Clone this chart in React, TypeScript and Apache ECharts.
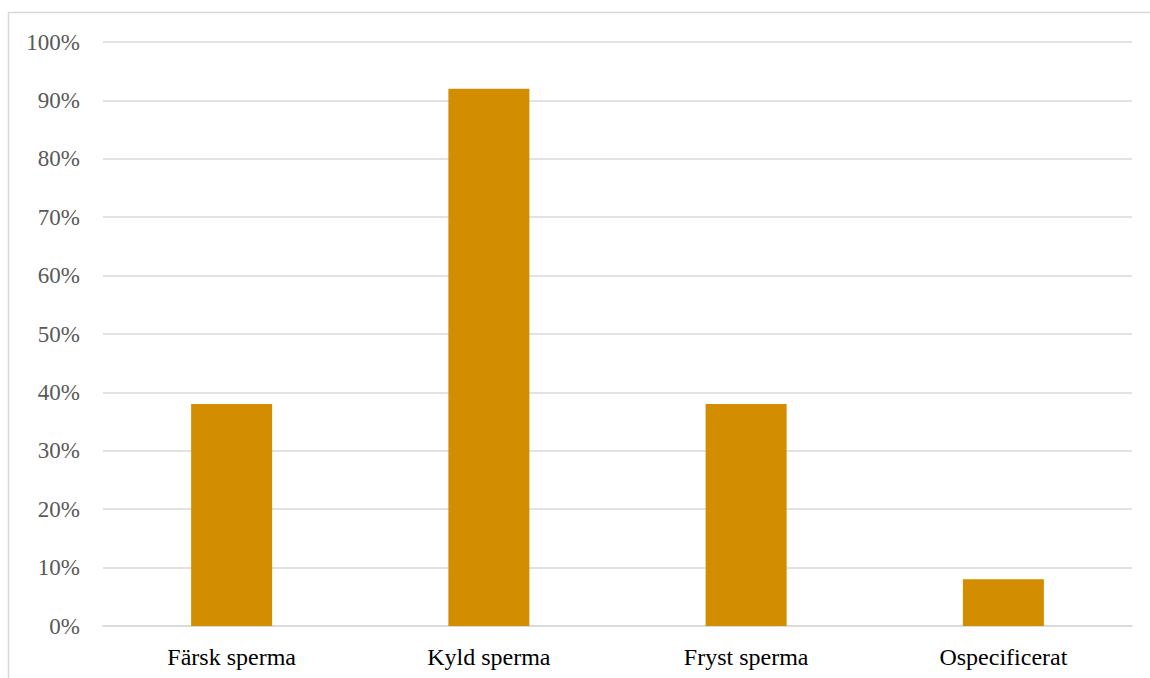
import React, { useEffect, useRef } from "react";
import * as echarts from "echarts";

const categories = ["Färsk sperma", "Kyld sperma", "Fryst sperma", "Ospecificerat"];
const values = [38, 92, 38, 8];
const yTicks = [0, 10, 20, 30, 40, 50, 60, 70, 80, 90, 100];

export default function App() {
  const ref = useRef<HTMLDivElement>(null);
  useEffect(() => {
    if (!ref.current) return;
    const chart = echarts.init(ref.current, null, { renderer: "svg" });
    chart.setOption({
      animation: false,
      backgroundColor: "#ffffff",
      graphic: [
        {
          type: "rect",
          shape: { x: 8.5, y: 12.5, width: 1200, height: 700 },
          style: { fill: "none", stroke: "#d9d9d9", lineWidth: 1.5 },
          silent: true,
          z: -1,
        },
      ],
      grid: { left: 103, right: 18, top: 42, bottom: 52, containLabel: false },
      xAxis: {
        type: "category",
        data: categories,
        axisLine: { show: true, lineStyle: { color: "#d9d9d9", width: 1.5 } },
        axisTick: { show: false },
        axisLabel: {
          color: "#000000",
          fontFamily: "Liberation Serif",
          fontSize: 24,
          margin: 19,
        },
      },
      yAxis: {
        type: "value",
        min: yTicks[0],
        max: yTicks[yTicks.length - 1],
        interval: 10,
        axisLine: { show: false },
        axisTick: { show: false },
        splitLine: { lineStyle: { color: "#d9d9d9", width: 1.5 } },
        axisLabel: {
          color: "#595959",
          fontFamily: "Liberation Serif",
          fontSize: 23,
          margin: 23,
          formatter: (v: number) => v + "%",
        },
      },
      series: [
        {
          type: "bar",
          data: values,
          barWidth: 81,
          itemStyle: { color: "#d38d00" },
        },
      ],
    });
    return () => chart.dispose();
  }, []);
  return (
    <div
      ref={ref}
      style={{ position: "absolute", left: 0, top: 0, width: 1150, height: 678 }}
    />
  );
}
